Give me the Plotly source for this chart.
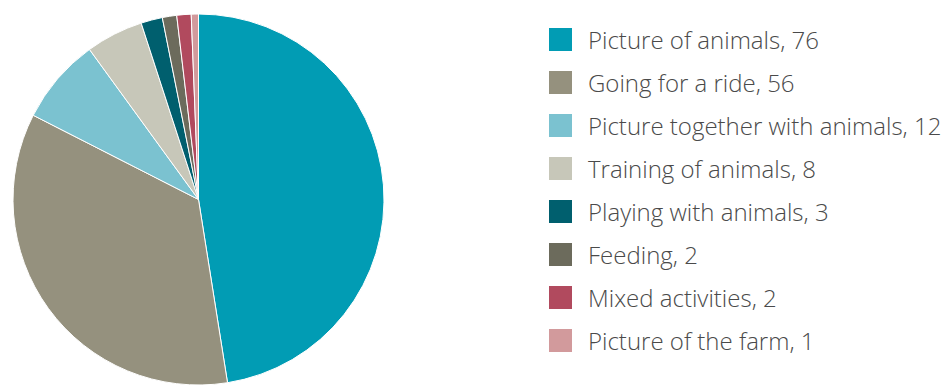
import plotly.graph_objects as go

W, H = 943, 385

# Activity categories and counts
activities = [
    "Picture of animals",
    "Going for a ride",
    "Picture together with animals",
    "Training of animals",
    "Playing with animals",
    "Feeding",
    "Mixed activities",
    "Picture of the farm",
]
counts = [76, 56, 12, 8, 3, 2, 2, 1]
colors = ["#019CB4", "#95917E", "#7BC2D0", "#C7C7B9",
          "#005F6E", "#6C6B5C", "#B14A5E", "#D29A9C"]

fig = go.Figure()
fig.add_trace(go.Pie(
    labels=activities,
    values=counts,
    sort=False,
    direction="clockwise",
    rotation=0,
    marker=dict(colors=colors, line=dict(color="white", width=1)),
    textinfo="none",
    showlegend=False,
    domain=dict(x=[0, 397 / W], y=[0, 371 / H]),
))

# Legend: coloured squares with "label, count" text
sq = 23
x0, y0, step = 549, 39.5, 43
for i, (name, n, c) in enumerate(zip(activities, counts, colors)):
    yc = y0 + i * step
    fig.add_shape(
        type="rect", xref="paper", yref="paper",
        x0=x0 / W, x1=(x0 + sq) / W,
        y0=1 - (yc + sq / 2) / H, y1=1 - (yc - sq / 2) / H,
        fillcolor=c, line=dict(width=0),
    )
    fig.add_annotation(
        xref="paper", yref="paper", x=586 / W, y=1 - yc / H,
        xanchor="left", yanchor="middle", showarrow=False,
        text=f"{name}, {n}",
        font=dict(family="Open Sans", size=24, color="#4A4A4A", weight=300),
    )

fig.update_layout(
    width=W, height=H,
    margin=dict(l=0, r=0, t=0, b=0),
    paper_bgcolor="white",
    plot_bgcolor="white",
)

fig.write_html("out.html")
